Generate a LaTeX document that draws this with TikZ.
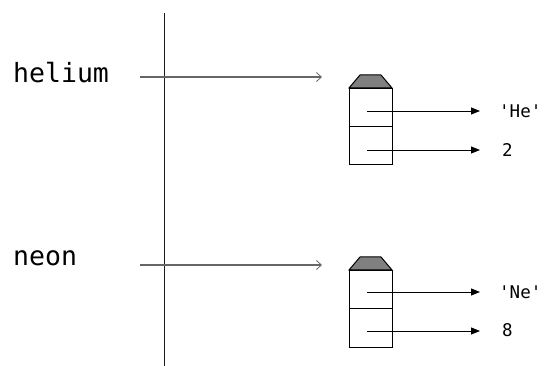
\documentclass[tikz,border=0pt]{standalone}
\usepackage{fontspec}
\setmonofont{DejaVu Sans Mono}
\usetikzlibrary{arrows.meta}
\tikzset{
  varname/.style={anchor=west, inner sep=0pt, font=\ttfamily\fontsize{26.5}{26.5}\selectfont},
  value/.style={anchor=west, inner sep=0pt, font=\ttfamily\fontsize{17.5}{17.5}\selectfont},
  refline/.style={draw=black!60, line width=1.2pt, -{Straight Barb[length=5pt,width=9pt,line width=0.8pt]}},
  slotline/.style={draw=black, line width=0.9pt, -{Triangle[length=9pt,width=7pt]}},
  cell/.style={draw=black, line width=0.9pt},
  objhead/.style={draw=black, line width=1pt, fill=black!50},
}
\begin{document}
\begin{tikzpicture}[x=1pt,y=-1pt]
  \useasboundingbox (0,0) rectangle (544,366);
  % frame separator
  \coordinate (frameTop) at (164,13);
  \coordinate (frameBot) at (164,366);
  \draw[black!90, line width=1pt] (frameTop) -- (frameBot);

  % variable names
  \node[varname] (hel) at (13,73) {helium};
  \node[varname] (neo) at (13,258) {neon};

  % helium object
  \coordinate (hA) at (349,88);
  \coordinate (hB) at (392,164);
  \draw[objhead] (349,88) -- (360,75) -- (381,75) -- (392,88) -- cycle;
  \draw[cell] (hA) rectangle (hB);
  \draw[cell] (349,126) -- (392,126);
  \coordinate (hS) at (140,77);
  \coordinate (hE) at (322,77);
  \draw[refline] (hS) -- (hE);
  \coordinate (h1) at (367,111);
  \coordinate (h2) at (367,150);
  \node[value] (hv1) at (499,111) {'He'};
  \node[value] (hv2) at (502,150) {2};
  \draw[slotline] (h1) -- (480,111) coordinate (h1e);
  \draw[slotline] (h2) -- (480,150) coordinate (h2e);

  % neon object
  \coordinate (nA) at (349,270);
  \coordinate (nB) at (392,347);
  \draw[objhead] (349,270) -- (360,257) -- (381,257) -- (392,270) -- cycle;
  \draw[cell] (nA) rectangle (nB);
  \draw[cell] (349,308) -- (392,308);
  \coordinate (nS) at (140,265);
  \coordinate (nE) at (322,265);
  \draw[refline] (nS) -- (nE);
  \coordinate (n1) at (367,292);
  \coordinate (n2) at (367,331);
  \node[value] (nv1) at (499,292) {'Ne'};
  \node[value] (nv2) at (502,330) {8};
  \draw[slotline] (n1) -- (480,292);
  \draw[slotline] (n2) -- (480,331);
\end{tikzpicture}
\end{document}
